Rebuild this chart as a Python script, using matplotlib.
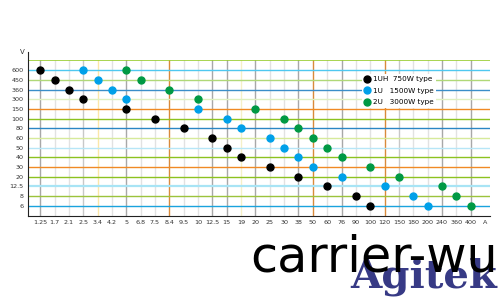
import matplotlib
matplotlib.use("Agg")
import matplotlib.pyplot as plt

# categories along the axes
x_labels = ["1.25", "1.7", "2.1", "2.5", "3.4", "4.2", "5", "6.8", "7.5", "8.4",
            "9.5", "10", "12.5", "15", "19", "20", "25", "30", "38", "50",
            "60", "76", "90", "100", "120", "150", "180", "200", "240", "360",
            "400", "A"]
y_labels = ["6", "8", "12.5", "20", "30", "40", "50", "60", "80", "100",
            "150", "300", "360", "450", "600"]

# (current, voltage) pairs per model
uh750_x = ["1.25", "1.7", "2.1", "2.5", "5", "7.5", "9.5", "12.5", "15", "19",
           "25", "38", "60", "90", "100"]
uh750_y = ["600", "450", "360", "300", "150", "100", "80", "60", "50", "40",
           "30", "20", "12.5", "8", "6"]
u1500_x = ["2.5", "3.4", "4.2", "5", "10", "15", "19", "25", "30", "38",
           "50", "76", "120", "180", "200"]
u1500_y = ["600", "450", "360", "300", "150", "100", "80", "60", "50", "40",
           "30", "20", "12.5", "8", "6"]
u3000_x = ["5", "6.8", "8.4", "10", "20", "30", "38", "50", "60", "76",
           "100", "150", "240", "360", "400"]
u3000_y = ["600", "450", "360", "300", "150", "100", "80", "60", "50", "40",
           "30", "20", "12.5", "8", "6"]

series = [
    ("1UH  750W type", uh750_x, uh750_y, "#000000"),
    ("1U   1500W type", u1500_x, u1500_y, "#00a0e9"),
    ("2U   3000W type", u3000_x, u3000_y, "#009944"),
]

# gridline colours
h_colors = ["#1aa3dd", "#9cc33c", "#a8e4f5", "#8dc21f", "#f08a24", "#8dc21f",
            "#b7e6f7", "#d6ea9a", "#2a86c4", "#8dc21f", "#f08a24", "#dff0c0",
            "#3a8ec9", "#b0d878", "#4fc8f0"]
dark = "#a8a8a8"
light = "#e2e2e2"
v_colors = {"1.25": dark, "2.5": "#c8c8c8", "3.4": "#fbe7a8", "5": dark,
            "8.4": "#d98a3a", "12.5": dark, "15": dark, "19": "#f5f0c8",
            "20": dark, "38": dark, "50": "#d98a3a", "76": dark,
            "120": "#d98a3a", "150": "#c8c8c8", "240": dark, "400": dark}

fig = plt.figure(figsize=(5, 3), dpi=100)
ax = fig.add_axes([0.056, 0.28, 0.924, 0.52])

for i, lab in enumerate(x_labels[:-1]):
    ax.axvline(i, color=v_colors.get(lab, light), lw=1.0, zorder=1)
for i, c in enumerate(h_colors):
    lw = 1.6 if y_labels[i] == "12.5" else 1.0
    ax.axhline(i, color=c, lw=lw, zorder=1)
ax.axhline(len(y_labels), color="#9acd32", lw=1.2, zorder=1)

for name, xs, ys, c in series:
    xi = [x_labels.index(v) for v in xs]
    yi = [y_labels.index(v) for v in ys]
    ax.plot(xi, yi, "o", color=c, ms=5.0, ls="none", label=name, zorder=3)

ax.set_xlim(-0.85, 31.35)
ax.set_ylim(-1.05, 15.05)
ax.set_xticks(range(len(x_labels)))
ax.set_xticklabels(x_labels, fontsize=4.6, color="#333333")
ax.set_yticks(range(len(y_labels)))
ax.set_yticklabels(y_labels, fontsize=4.6, color="#333333")
ax.tick_params(length=0, pad=3)
for s in ["top", "right"]:
    ax.spines[s].set_visible(False)
ax.spines["left"].set_color("#222222")
ax.spines["bottom"].set_color("#222222")
ax.spines["left"].set_bounds(-1.05, 15.9)
fig.text(0.045, 0.825, "V", fontsize=5, ha="center", va="center", color="#333333")

leg = ax.legend(loc="upper left", bbox_to_anchor=(0.715, 0.935), fontsize=5.2,
                frameon=True, handletextpad=0.35, borderpad=0.35,
                labelspacing=0.75, handlelength=0.8, markerscale=1.0)
leg.get_frame().set_facecolor("white")
leg.get_frame().set_edgecolor("none")
leg.get_frame().set_alpha(1.0)

# watermark
fig.text(0.70, 0.04, "Agitek", fontsize=29, family="DejaVu Serif",
         fontweight="bold", color="#2c2f7e", alpha=0.95)
fig.text(0.995, 0.095, "carrier-wu", fontsize=35.5, ha="right", color="black")

fig.savefig("out.png", dpi=100, facecolor="white")
